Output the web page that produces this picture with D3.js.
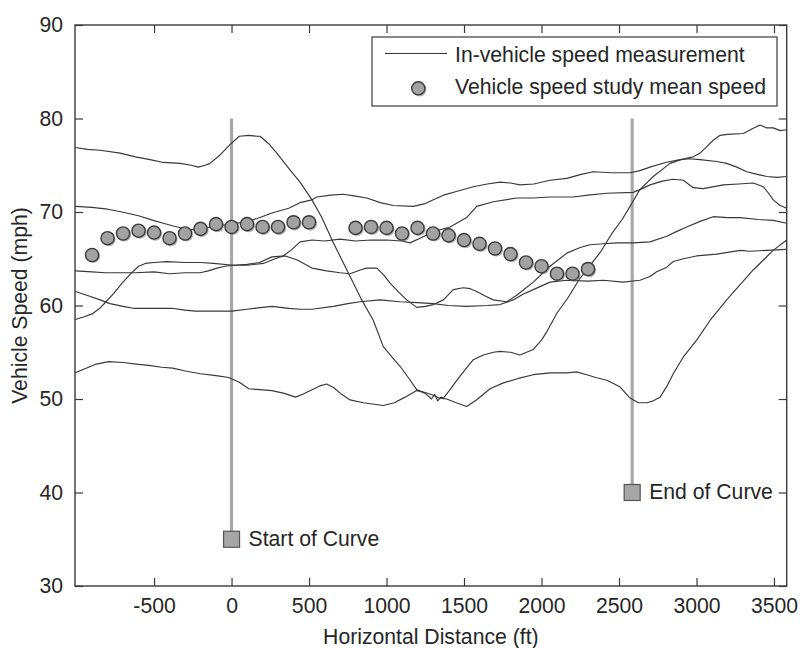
<!DOCTYPE html>
<html>
<head>
<meta charset="utf-8">
<script src="https://cdn.jsdelivr.net/npm/d3@7"></script>
<style>
  html, body { margin: 0; padding: 0; background: #fff; }
  svg text { font-family: "Liberation Sans", Arial, Helvetica, sans-serif; fill: #262626; }
</style>
</head>
<body>
<svg id="chart" width="800" height="648"></svg>
<script>
// In-vehicle speed traces: [distance (ft), speed (mph)]
const runA = [[-1008,76.9],[-930,76.7],[-848,76.6],[-719,76.3],[-620,75.9],[-526,75.6],[-440,75.3],[-332,75.2],[-260,75.0],[-214,74.8],[-170,75.0],[-139,75.2],[-74,76.1],[-10,77.2],[50,78.1],[110,78.2],[163,78.1],[184,78.1],[240,77.3],[292,76.3],[377,74.5],[442,73.2],[519,71.3],[580,69.5],[657,66.7],[765,63.1],[840,60.6],[915,58.4],[979,55.6],[1040,54.4],[1087,53.5],[1140,52.3],[1195,51.0],[1250,50.6],[1290,50.0],[1310,50.5],[1330,49.8],[1350,50.2],[1367,50.1],[1410,51.0],[1453,52.0],[1510,53.2],[1560,54.2],[1625,54.7],[1690,55.0],[1732,55.1],[1800,55.0],[1861,54.7],[1947,55.3],[2000,56.3],[2034,57.2],[2100,59.2],[2170,60.8],[2240,62.7],[2313,64.3],[2380,65.7],[2450,67.6],[2520,69.2],[2571,70.6],[2635,72.4],[2721,73.8],[2829,75.2],[2900,75.6],[2979,75.9],[3023,76.3],[3066,77.0],[3110,77.7],[3152,78.2],[3200,78.3],[3302,78.4],[3360,78.9],[3410,79.3],[3450,79.0],[3495,79.0],[3540,78.7],[3582,78.8]];

const runB = [[-1008,70.6],[-900,70.5],[-800,70.3],[-706,70.0],[-600,69.6],[-505,69.1],[-440,68.8],[-375,68.5],[-276,68.1],[-200,68.2],[-100,68.5],[0,68.7],[100,69.0],[165,69.3],[261,69.9],[369,70.4],[442,71.0],[519,71.3],[550,71.6],[640,71.8],[721,71.9],[800,71.7],[872,71.5],[960,71.0],[1044,70.7],[1173,70.6],[1250,70.9],[1302,71.3],[1367,71.8],[1450,72.2],[1560,72.7],[1650,73.0],[1732,73.2],[1800,73.1],[1861,72.9],[1950,73.0],[2055,73.4],[2163,73.6],[2250,74.0],[2334,74.3],[2450,74.2],[2571,74.2],[2630,74.4],[2700,74.8],[2800,75.3],[2894,75.6],[2950,75.7],[3023,75.6],[3130,75.4],[3195,75.2],[3260,74.8],[3324,74.3],[3400,74.0],[3453,73.8],[3520,73.7],[3582,73.8]];

const runC = [[-1008,63.7],[-900,63.6],[-814,63.5],[-700,63.5],[-621,63.5],[-500,63.6],[-400,63.4],[-300,63.5],[-203,63.5],[-150,63.7],[-95,64.0],[-40,64.2],[12,64.3],[100,64.3],[205,64.5],[280,65.0],[334,65.3],[390,66.0],[442,66.8],[519,67.0],[600,66.9],[700,67.1],[800,66.9],[900,67.0],[1000,67.0],[1100,66.9],[1152,66.7],[1230,67.3],[1302,67.9],[1410,68.4],[1517,69.4],[1582,70.6],[1689,71.1],[1840,71.5],[1950,71.5],[2055,71.6],[2205,71.6],[2300,71.8],[2421,72.0],[2592,72.1],[2650,72.5],[2700,72.9],[2780,73.3],[2850,73.5],[2915,73.4],[2979,72.6],[3044,72.5],[3173,72.9],[3270,73.0],[3366,73.1],[3431,72.7],[3470,71.9],[3495,71.3],[3540,70.7],[3582,70.4]];

const runD = [[-1008,61.5],[-934,61.1],[-848,60.6],[-784,60.2],[-700,59.9],[-634,59.7],[-500,59.7],[-384,59.7],[-300,59.5],[-234,59.4],[-100,59.4],[3,59.4],[100,59.6],[200,59.8],[261,59.9],[369,59.7],[442,59.6],[519,59.6],[657,59.9],[750,60.2],[829,60.4],[958,60.6],[1087,60.4],[1200,60.3],[1302,60.2],[1400,60.0],[1517,59.9],[1650,60.0],[1732,60.1],[1818,60.6],[1880,61.2],[1947,61.7],[2055,62.5],[2163,62.7],[2300,62.6],[2400,62.7],[2528,62.5],[2635,62.7],[2700,63.1],[2743,63.6],[2808,64.1],[2850,64.7],[2915,65.0],[3000,65.3],[3130,65.5],[3281,65.9],[3345,65.8],[3450,65.9],[3582,66.0]];

const runE = [[-1008,58.5],[-950,58.8],[-900,59.1],[-850,59.7],[-810,60.4],[-760,61.3],[-706,62.4],[-650,63.4],[-600,64.2],[-556,64.5],[-500,64.6],[-418,64.7],[-300,64.6],[-200,64.6],[-117,64.5],[12,64.3],[100,64.4],[180,64.6],[261,65.2],[347,65.3],[420,64.9],[442,64.7],[519,64.0],[614,63.7],[700,63.5],[765,63.4],[830,63.8],[872,64.0],[937,64.0],[980,63.3],[1023,62.4],[1080,61.4],[1130,60.6],[1195,59.8],[1250,59.9],[1302,60.1],[1367,60.6],[1431,61.7],[1495,61.9],[1540,61.8],[1582,61.5],[1640,61.0],[1689,60.6],[1775,60.4],[1840,61.1],[1947,62.5],[2055,64.2],[2163,65.6],[2250,66.2],[2313,66.5],[2400,66.6],[2485,66.7],[2592,66.7],[2700,66.8],[2808,67.4],[2870,67.9],[2937,68.4],[3023,69.0],[3108,69.5],[3200,69.4],[3281,69.4],[3400,69.2],[3495,69.1],[3582,68.8]];

const runF = [[-1008,52.8],[-950,53.2],[-880,53.7],[-792,54.0],[-700,53.9],[-600,53.7],[-534,53.6],[-450,53.4],[-380,53.3],[-298,53.0],[-200,52.7],[-100,52.5],[-18,52.3],[50,51.8],[111,51.1],[180,51.0],[261,50.9],[340,50.6],[412,50.2],[460,50.5],[519,51.0],[570,51.4],[614,51.6],[660,51.2],[710,50.5],[765,49.9],[850,49.6],[979,49.3],[1050,49.6],[1120,50.2],[1195,50.9],[1250,50.7],[1302,50.4],[1340,50.1],[1388,50.0],[1450,49.6],[1517,49.2],[1580,49.9],[1668,51.1],[1750,51.7],[1850,52.2],[1947,52.6],[2055,52.8],[2163,52.8],[2227,52.9],[2292,52.6],[2350,52.3],[2421,52.0],[2506,51.3],[2571,50.1],[2625,49.6],[2680,49.6],[2721,49.8],[2765,50.2],[2810,51.4],[2850,52.7],[2915,54.5],[3001,56.3],[3087,58.4],[3195,60.6],[3280,62.2],[3366,63.8],[3440,65.0],[3495,65.9],[3582,67.0]];

const speedRuns = [runA, runB, runC, runD, runE, runF];

// Speed study stations (ft) and mean speeds (mph)
const studyStations = [-900,-800,-700,-600,-500,-400,-300,-200,-100,0,100,200,300,400,500,
                       800,900,1000,1100,1200,1300,1400,1500,1600,1700,1800,1900,2000,2100,2200,2300];
const studyMeans = [65.4,67.2,67.7,68.0,67.8,67.2,67.7,68.2,68.7,68.4,68.7,68.4,68.4,68.9,68.9,
                    68.3,68.4,68.3,67.7,68.3,67.7,67.5,67.0,66.6,66.1,65.5,64.6,64.2,63.4,63.4,63.9];

// Curve limits: position (ft), marker speed (mph), label
const curveMarks = [
  { at: 0, low: 35, label: "Start of Curve" },
  { at: 2585, low: 40, label: "End of Curve" }
];
const markTop = 80;

const xTicks = [-500, 0, 500, 1000, 1500, 2000, 2500, 3000, 3500];
const yTicks = [30, 40, 50, 60, 70, 80, 90];

const legendItems = ["In-vehicle speed measurement", "Vehicle speed study mean speed"];
const xTitle = "Horizontal Distance (ft)";
const yTitle = "Vehicle Speed (mph)";

// Layout
const svg = d3.select("#chart");
const L = 75, R = 786.7, T = 25, B = 586;
const FS = 21.2;
const axisColor = "#3a3a3a";

const x = d3.scaleLinear().domain([-1010, 3582]).range([L, R]);
const y = d3.scaleLinear().domain([30, 90]).range([B, T]);

// Curve limit bars
const marks = svg.append("g");
curveMarks.forEach(m => {
  marks.append("line")
    .attr("x1", x(m.at)).attr("x2", x(m.at))
    .attr("y1", y(markTop)).attr("y2", y(m.low))
    .attr("stroke", "#a8a8a8").attr("stroke-width", 3.2);
  marks.append("rect")
    .attr("x", x(m.at) - 8).attr("y", y(m.low) - 8)
    .attr("width", 16).attr("height", 16)
    .attr("fill", "#a6a6a6").attr("stroke", "#555").attr("stroke-width", 1.2);
  marks.append("text")
    .attr("x", x(m.at) + 17).attr("y", y(m.low) + 6.8)
    .attr("font-size", FS).text(m.label);
});

// Speed traces
const line = d3.line().x(d => x(d[0])).y(d => y(d[1]));
svg.append("g").selectAll("path").data(speedRuns).join("path")
  .attr("d", line)
  .attr("fill", "none")
  .attr("stroke", "#383838")
  .attr("stroke-width", 1.15)
  .attr("stroke-linejoin", "round");

// Mean speed markers
const study = studyStations.map((s, i) => [s, studyMeans[i]]);
function dot(g, cx, cy) {
  g.append("circle").attr("cx", cx + 1.3).attr("cy", cy + 1.3).attr("r", 6.8)
    .attr("fill", "#6e6e6e").attr("opacity", 0.55);
  g.append("circle").attr("cx", cx).attr("cy", cy).attr("r", 6.6)
    .attr("fill", "#a2a2a2").attr("stroke", "#3c3c3c").attr("stroke-width", 1.4);
}
const dots = svg.append("g");
study.forEach(d => dot(dots, x(d[0]), y(d[1])));

// Axes (ticks drawn inward on all four sides)
const tk = 8;
const plain = d => String(d);
svg.append("g").attr("transform", `translate(0,${B})`)
  .call(d3.axisBottom(x).tickValues(xTicks).tickSize(-tk).tickPadding(12).tickFormat(plain))
  .call(g => g.select(".domain").remove());
svg.append("g").attr("transform", `translate(0,${T})`)
  .call(d3.axisTop(x).tickValues(xTicks).tickSize(-tk).tickFormat(""))
  .call(g => g.select(".domain").remove());
svg.append("g").attr("transform", `translate(${L},0)`)
  .call(d3.axisLeft(y).tickValues(yTicks).tickSize(-tk).tickPadding(12).tickFormat(plain))
  .call(g => g.select(".domain").remove());
svg.append("g").attr("transform", `translate(${R},0)`)
  .call(d3.axisRight(y).tickValues(yTicks).tickSize(-tk).tickFormat(""))
  .call(g => g.select(".domain").remove());

svg.selectAll(".tick line").attr("stroke", axisColor).attr("stroke-width", 1.2);
svg.selectAll(".tick text").attr("font-size", FS).attr("fill", "#262626")
  .style("font-family", "'Liberation Sans', Arial, Helvetica, sans-serif");

svg.append("rect")
  .attr("x", L).attr("y", T).attr("width", R - L).attr("height", B - T)
  .attr("fill", "none").attr("stroke", axisColor).attr("stroke-width", 1.4);

// Axis titles
svg.append("text")
  .attr("x", (L + R) / 2).attr("y", 644)
  .attr("text-anchor", "middle").attr("font-size", FS)
  .text(xTitle);
svg.append("text")
  .attr("transform", `translate(27,${(T + B) / 2}) rotate(-90)`)
  .attr("text-anchor", "middle").attr("font-size", FS)
  .text(yTitle);

// Legend
const lg = svg.append("g");
lg.append("rect").attr("x", 372).attr("y", 37).attr("width", 405).attr("height", 69)
  .attr("fill", "#fff").attr("stroke", axisColor).attr("stroke-width", 1.2);
lg.append("line").attr("x1", 385).attr("x2", 447).attr("y1", 53.5).attr("y2", 53.5)
  .attr("stroke", "#383838").attr("stroke-width", 1.1);
dot(lg, 418.3, 88.3);
lg.selectAll("text.lgt").data(legendItems).join("text")
  .attr("class", "lgt")
  .attr("x", 455).attr("y", (d, i) => i === 0 ? 62 : 94.3)
  .attr("font-size", FS)
  .text(d => d);
</script>
</body>
</html>
